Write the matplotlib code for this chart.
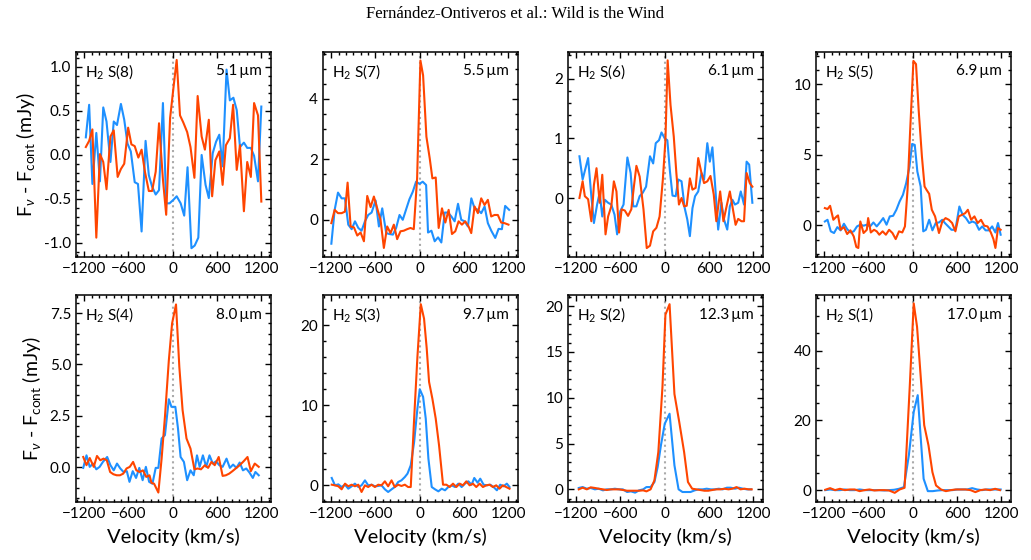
import numpy as np
import matplotlib
matplotlib.use("Agg")
import matplotlib.pyplot as plt
from matplotlib.ticker import AutoMinorLocator, MultipleLocator, FormatStrFormatter

plt.rcParams['font.family'] = ['Lato', 'DejaVu Sans']
plt.rcParams['mathtext.fontset'] = 'custom'
plt.rcParams['mathtext.rm'] = 'Lato'
plt.rcParams['mathtext.it'] = 'Lato:italic'
plt.rcParams['mathtext.fallback'] = 'stixsans'
plt.rcParams['axes.unicode_minus'] = True

RED = '#FF4500'
BLUE = '#1E90FF'

# ---------------- data (velocity km/s, flux mJy) ----------------
# H2 S(8)  5.1 um
v_s8_b = [-1177,-1132,-1088,-1035,-986,-941,-897,-844,-799,-755,-702,-657,-613,-568,-515,-471,-422,-368,-324,-280,-231,-186,-133,-89,-44,9,53,107,155,200,253,297,346,391,444,488,541,586,630,675,728,773,821,866,910,963,1008,1057,1101,1154,1199]
f_s8_b = [0.20,0.57,-0.33,0.25,-0.30,0.54,0.38,-0.08,0.38,0.34,0.58,0.40,0.13,0.04,-0.31,-0.33,-0.87,0.16,-0.23,-0.36,-0.45,-0.40,0.59,-0.55,-0.55,-0.51,-0.47,-0.55,-0.69,-0.14,-1.06,-1.03,-0.94,0.00,-0.34,-0.49,0.02,0.15,0.23,-0.13,0.97,0.62,0.65,0.51,0.09,0.14,0.08,0.08,-0.01,-0.30,0.55]
v_s8_r = [-1177,-1132,-1088,-1035,-986,-941,-897,-844,-799,-746,-702,-657,-604,-560,-515,-466,-422,-377,-324,-280,-231,-186,-133,-89,-36,9,53,98,142,195,240,293,337,391,435,488,533,577,630,675,719,773,817,866,910,963,1008,1057,1101,1154,1199]
f_s8_r = [0.09,0.16,0.29,-0.94,0.01,-0.08,-0.39,0.21,0.28,-0.25,-0.16,-0.10,0.31,0.12,0.10,-0.03,0.06,-0.19,-0.41,-0.41,-0.19,0.36,-0.28,-0.68,0.42,0.76,1.08,0.45,0.37,0.26,0.09,-0.26,0.67,0.21,0.06,0.40,-0.47,-0.06,0.04,-0.34,0.11,0.19,0.57,-0.17,0.11,-0.64,-0.08,-0.25,0.59,0.45,-0.53]

# H2 S(7)  5.5 um
v_s7_b = [-1197,-1152,-1107,-1058,-1013,-968,-922,-877,-832,-788,-742,-698,-652,-598,-553,-508,-454,-410,-364,-320,-274,-230,-184,-140,-94,-50,-4,40,86,112,158,202,248,292,338,382,428,472,518,562,608,652,698,742,788,832,878,922,968,1022,1067,1112,1156,1210]
f_s7_b = [-0.79,0.33,0.90,0.71,0.71,-0.16,-0.31,-0.05,-0.27,-0.36,-0.05,0.16,0.24,0.64,-0.22,0.38,-0.44,-0.47,-0.49,-0.27,0.16,0.0,0.35,0.68,0.93,1.26,1.19,1.26,1.15,-0.42,-0.36,-0.71,-0.58,-0.75,0.24,0.24,0.11,-0.05,0.53,0.0,-0.05,-0.22,0.71,0.38,0.33,0.22,0.44,-0.11,-0.36,-0.60,-0.30,-0.31,0.46,0.33]
v_s7_r = [-1197,-1152,-1107,-1058,-1013,-977,-936,-891,-846,-801,-756,-711,-666,-621,-576,-531,-486,-441,-396,-351,-306,-261,-216,-171,-126,-81,-36,9,45,90,135,171,216,256,301,346,391,436,481,526,571,616,661,697,742,787,832,877,922,967,1012,1057,1102,1147,1201]
f_s7_r = [-0.11,0.33,0.22,0.22,0.27,1.23,-0.22,-0.25,-0.52,-0.42,-0.71,0.79,0.42,0.77,0.38,0.0,-0.93,-0.22,-0.44,-0.16,-0.64,-0.38,-0.36,-0.31,-0.27,-0.31,1.37,5.27,4.78,2.75,2.03,1.37,1.40,-0.27,0.38,-0.09,0.33,-0.47,-0.38,-0.05,-0.16,-0.05,-0.22,-0.44,0.44,0.22,0.71,0.49,0.66,0.11,0.16,0.16,-0.09,-0.11,-0.16]

# H2 S(6)  6.1 um
v_s6_b = [-1155,-1112,-1073,-1038,-994,-959,-916,-881,-846,-811,-767,-724,-680,-645,-602,-558,-506,-462,-427,-384,-340,-297,-253,-200,-157,-122,-78,-44,0,35,70,105,148,183,227,270,305,340,375,410,453,497,532,576,610,645,680,723,767,802,846,881,916,950,994,1029,1073,1108,1143,1186]
f_s6_b = [0.70,0.31,0.50,0.67,0.03,-0.42,-0.11,0.09,-0.31,-0.03,-0.08,-0.11,-0.28,-0.61,-0.22,-0.11,0.68,0.42,-0.14,-0.14,0.03,0.09,0.19,0.70,0.58,0.92,0.97,1.10,1.00,0.97,0.45,0.04,0.03,0.31,0.28,-0.17,-0.36,-0.64,-0.17,0.03,0.11,0.42,0.31,0.92,0.61,0.85,0.25,-0.53,-0.08,-0.36,-0.53,-0.14,-0.03,-0.11,-0.08,0.11,-0.11,0.61,0.56,-0.08]
v_s6_r = [-1155,-1112,-1082,-1038,-994,-959,-924,-881,-846,-802,-767,-724,-689,-654,-619,-584,-541,-497,-453,-418,-384,-340,-288,-244,-200,-157,-113,-70,-26,9,39,78,122,157,192,227,262,297,340,375,418,453,497,532,576,619,663,698,750,794,837,881,916,959,994,1038,1073,1108,1151,1186]
f_s6_r = [0.0,0.28,0.03,-0.02,-0.39,0.22,0.50,-0.08,0.39,-0.61,-0.31,-0.14,0.28,0.11,-0.58,-0.19,-0.21,-0.30,-0.19,0.19,0.54,0.36,-0.19,-0.84,-0.80,-0.56,-0.50,-0.31,0.31,0.97,2.31,1.56,1.03,0.42,-0.11,0.0,-0.14,-0.13,0.33,0.14,0.17,0.67,0.42,0.25,0.28,0.37,0.06,-0.39,0.11,-0.39,-0.14,0.11,-0.14,-0.45,-0.35,-0.39,-0.39,0.42,0.25,0.19]

# H2 S(5)  6.9 um
v_s5_b = [-1190,-1154,-1110,-1066,-1021,-977,-932,-888,-844,-799,-755,-710,-666,-622,-577,-533,-488,-444,-400,-355,-311,-266,-222,-178,-133,-89,-44,-9,27,62,107,142,178,222,266,311,355,400,435,480,524,577,631,675,720,764,808,853,897,941,986,1030,1075,1119,1154,1190]
f_s5_b = [0.28,0.40,-0.42,-0.54,-0.12,-0.35,0.12,-0.26,-0.50,-0.42,-0.07,0.05,-0.02,0.05,-0.07,0.21,-0.07,0.21,0.52,0.05,0.64,0.68,1.11,1.70,2.17,3.00,4.17,5.78,5.71,3.82,2.76,-0.42,-0.31,0.40,-0.35,0.17,0.21,0.40,0.17,-0.07,-0.31,-0.31,1.34,0.75,0.52,0.17,0.28,0.17,-0.31,-0.07,-0.35,-0.35,-0.07,-0.50,0.17,-0.66]
v_s5_r = [-1190,-1154,-1119,-1075,-1030,-1012,-977,-932,-888,-844,-799,-764,-737,-710,-666,-622,-604,-568,-524,-488,-453,-408,-364,-320,-275,-231,-186,-142,-106,-71,-35,9,44,80,124,160,187,222,258,302,355,400,444,488,533,577,622,666,710,746,790,835,879,924,968,1012,1057,1092,1119,1154,1190]
f_s5_r = [1.23,1.16,1.39,0.40,0.64,0.71,-0.31,-0.12,-0.61,-0.35,-0.78,-1.53,-1.60,0.28,-0.54,-0.31,0.52,-0.50,-0.31,-0.42,-0.66,-0.42,-0.66,-0.31,-0.54,-0.97,-0.42,-0.50,-0.07,2.52,6.77,11.67,11.44,8.18,4.88,2.76,2.52,2.24,1.11,0.64,-0.54,0.28,0.52,0.40,0.17,-0.42,0.64,0.75,0.87,1.11,0.40,0.64,0.17,0.40,-0.02,-0.07,-0.50,-0.97,-1.60,-0.19,-0.31]

# H2 S(4)  8.0 um
v_s4_b = [-1212,-1168,-1124,-1079,-1035,-990,-946,-888,-844,-799,-755,-710,-666,-622,-586,-542,-497,-453,-408,-364,-320,-275,-231,-195,-151,-106,-53,-18,35,71,106,151,195,240,284,328,364,408,453,497,542,586,630,675,728,773,817,862,906,950,995,1039,1084,1119,1164]
f_s4_b = [-0.03,0.58,0.02,0.18,-0.10,0.02,0.26,0.50,0.10,-0.15,0.18,-0.06,-0.23,-0.19,-0.71,-0.19,-0.52,-0.03,-0.63,0.02,-0.71,-0.80,-0.03,-0.03,1.40,1.56,3.31,2.94,2.94,1.88,0.50,0.26,-0.63,-0.15,-0.39,0.58,0.02,0.58,0.02,0.58,0.18,0.29,0.10,0.02,0.42,-0.03,0.13,-0.03,0.23,-0.15,-0.06,-0.26,-0.52,-0.23,-0.39]
v_s4_r = [-1212,-1168,-1124,-1070,-1026,-981,-937,-893,-848,-804,-759,-715,-670,-626,-582,-537,-493,-448,-404,-359,-315,-288,-253,-195,-151,-106,-53,-9,44,89,133,186,240,293,337,382,435,479,524,568,622,675,719,764,808,852,906,959,1012,1057,1110,1164]
f_s4_r = [0.50,0.10,0.45,0.02,0.55,0.34,0.42,0.34,-0.23,-0.34,-0.39,-0.39,-0.31,-0.06,0.02,0.26,-0.15,-0.23,-0.15,-0.47,-0.39,-0.76,-0.80,-1.23,0.42,2.45,5.21,7.00,7.92,4.88,2.78,1.40,0.91,-0.10,-0.06,-0.10,0.10,-0.03,0.26,0.10,0.50,-0.42,-0.39,-0.31,-0.19,-0.06,0.10,0.29,0.50,-0.19,0.18,0.02]

# H2 S(3)  9.7 um
v_s3_b = [-1192,-1148,-1102,-1058,-1012,-968,-922,-878,-832,-788,-742,-698,-652,-608,-562,-518,-472,-428,-382,-338,-292,-248,-202,-166,-122,-76,-32,0,45,81,117,162,207,252,297,342,387,432,477,522,567,612,657,702,738,783,819,864,909,954,999,1044,1089,1134,1179,1215]
f_s3_b = [0.92,0.0,0.12,-0.21,0.08,-0.42,-0.12,0.21,-0.21,0.0,0.62,0.0,0.08,-0.12,-0.08,0.0,-0.50,-0.83,-0.50,-0.21,0.42,0.62,1.04,1.46,2.50,5.42,9.58,12.0,11.04,8.33,3.33,-0.21,-0.50,-0.75,-0.42,-0.62,-0.21,0.0,-0.21,0.21,-0.21,0.21,0.50,0.08,0.92,0.33,0.83,0.08,0.0,0.08,-0.21,-0.62,0.08,-0.12,0.21,-0.21]
v_s3_r = [-1192,-1148,-1102,-1058,-1012,-968,-922,-878,-832,-788,-742,-698,-652,-608,-562,-518,-472,-428,-382,-338,-292,-248,-202,-158,-122,-76,-32,14,58,94,126,171,216,261,315,360,405,450,495,540,585,630,675,720,765,810,855,900,945,990,1035,1080,1125,1170,1215]
f_s3_r = [0.08,0.0,-0.12,-0.50,0.21,-0.12,0.08,-0.12,0.08,-0.83,0.0,-0.21,0.08,-0.21,0.08,0.0,0.50,-0.12,0.62,-0.21,0.08,-0.08,0.08,-0.21,-0.21,8.33,16.0,22.6,20.8,17.1,12.9,10.8,8.33,5.0,0.08,0.08,-0.21,0.21,-0.21,0.21,0.0,0.50,0.0,0.21,-0.21,0.21,-0.21,0.0,0.08,-0.21,0.0,-0.42,0.0,-0.21,-0.42]

# H2 S(2)  12.3 um
v_s2_b = [-1164,-1112,-1055,-1003,-946,-894,-837,-785,-728,-676,-619,-567,-510,-458,-401,-349,-292,-248,-192,-140,-96,-52,0,65,131,187,240,296,349,405,458,514,567,623,676,732,785,841,894,950,1003,1059,1112,1168]
f_s2_b = [0.15,0.25,0.07,0.15,0.0,0.07,-0.11,0.0,0.0,0.07,0.0,0.0,-0.29,-0.22,-0.36,-0.11,0.0,0.25,0.25,0.80,2.44,4.80,7.16,8.25,2.62,0.0,-0.29,-0.29,-0.29,-0.11,0.0,0.0,0.07,0.0,0.0,0.07,0.0,0.18,0.18,0.07,0.18,0.07,0.0,0.0]
v_s2_r = [-1164,-1112,-1055,-1003,-946,-894,-837,-785,-728,-676,-619,-567,-510,-458,-401,-349,-292,-248,-192,-140,-87,-31,9,65,131,196,262,314,371,427,480,537,589,645,698,754,807,863,916,972,1025,1081,1134,1177]
f_s2_r = [0.0,0.18,0.0,0.22,0.15,0.07,0.0,-0.07,0.0,0.0,0.0,-0.07,-0.15,-0.15,-0.15,-0.15,-0.11,-0.22,0.0,0.98,4.07,11.2,19.05,20.2,10.4,7.35,4.07,0.80,0.07,0.0,-0.07,-0.15,-0.15,-0.07,0.0,0.0,0.07,0.0,0.07,0.25,0.0,0.07,0.0,0.0]

# H2 S(1)  17.0 um
v_s1_b = [-1185,-1119,-1052,-986,-919,-852,-786,-719,-653,-586,-519,-453,-386,-320,-253,-187,-120,-53,13,67,147,204,271,338,404,471,537,604,670,737,804,870,937,1003,1070,1137,1190]
f_s1_b = [0.0,0.19,0.0,0.0,0.19,0.0,0.0,0.19,0.0,0.0,0.0,0.0,-0.1,0.0,0.1,0.38,0.86,9.95,22.4,27.2,3.25,-0.29,-0.29,-0.1,0.0,0.0,0.0,0.19,0.19,0.19,0.57,0.19,0.0,0.19,0.19,0.19,0.19]
v_s1_r = [-1185,-1119,-1052,-986,-919,-852,-786,-719,-653,-586,-519,-453,-386,-320,-244,-178,-111,-40,13,58,111,155,213,266,315,382,448,515,582,648,715,782,848,915,981,1048,1115,1181]
f_s1_r = [0.1,0.57,0.0,0.38,0.0,0.19,0.19,-0.29,0.0,0.19,-0.1,0.0,0.0,-0.1,-0.77,0.19,0.67,30.0,53.5,46.8,31.5,18.6,12.8,5.17,1.34,0.19,-0.29,0.0,0.19,0.19,0.19,0.0,-0.57,0.0,0.19,0.0,0.38,0.0]

line_names = ['H$_2$ S(8)', 'H$_2$ S(7)', 'H$_2$ S(6)', 'H$_2$ S(5)',
              'H$_2$ S(4)', 'H$_2$ S(3)', 'H$_2$ S(2)', 'H$_2$ S(1)']
wavelengths = ['5.1\u2009µm', '5.5\u2009µm', '6.1\u2009µm', '6.9\u2009µm',
               '8.0\u2009µm', '9.7\u2009µm', '12.3\u2009µm', '17.0\u2009µm']
ylims = [(-1.16, 1.17), (-1.23, 5.55), (-0.99, 2.45), (-2.24, 12.3),
         (-1.69, 8.38), (-2.08, 23.75), (-1.38, 21.2), (-3.4, 55.9)]
yticks = [[-1.0, -0.5, 0.0, 0.5, 1.0], [0, 2, 4], [0, 1, 2], [0, 5, 10],
          [0.0, 2.5, 5.0, 7.5], [0, 10, 20], [0, 5, 10, 15, 20], [0, 20, 40]]
yfmt = ['%.1f', '%d', '%d', '%d', '%.1f', '%d', '%d', '%d']
xticks = [-1200, -600, 0, 600, 1200]

series = [
    (v_s8_r, f_s8_r, v_s8_b, f_s8_b),
    (v_s7_r, f_s7_r, v_s7_b, f_s7_b),
    (v_s6_r, f_s6_r, v_s6_b, f_s6_b),
    (v_s5_r, f_s5_r, v_s5_b, f_s5_b),
    (v_s4_r, f_s4_r, v_s4_b, f_s4_b),
    (v_s3_r, f_s3_r, v_s3_b, f_s3_b),
    (v_s2_r, f_s2_r, v_s2_b, f_s2_b),
    (v_s1_r, f_s1_r, v_s1_b, f_s1_b),
]

fig = plt.figure(figsize=(10.31, 5.60), dpi=100)
W, H = 1031.0, 560.0
col_left = [76, 323, 568, 816]
col_w = 195
row_top = [52, 295]
row_bot = [257, 502]

for i in range(8):
    r, c = divmod(i, 4)
    ax = fig.add_axes([col_left[c] / W, 1 - row_bot[r] / H, col_w / W,
                       (row_bot[r] - row_top[r]) / H])
    vr, fr, vb, fb = series[i]
    ax.axvline(0, color='#aaaaaa', ls=':', lw=1.5, zorder=1)
    ax.plot(vb, fb, color=BLUE, lw=1.5, zorder=2)
    ax.plot(vr, fr, color=RED, lw=1.5, zorder=3)
    ax.set_xlim(-1310, 1330)
    ax.set_ylim(*ylims[i])
    ax.set_xticks(xticks)
    ax.set_yticks(yticks[i])
    ax.yaxis.set_major_formatter(FormatStrFormatter(yfmt[i]))
    ax.xaxis.set_minor_locator(MultipleLocator(100))
    ax.yaxis.set_minor_locator(AutoMinorLocator())
    ax.tick_params(which='both', direction='in', top=True, right=True,
                   labelsize=11, width=1.0)
    ax.tick_params(which='major', length=4.5)
    ax.tick_params(which='minor', length=2.2)
    for sp in ax.spines.values():
        sp.set_linewidth(1.1)
    ax.text(0.045, 0.905, line_names[i], transform=ax.transAxes,
            ha='left', va='center', fontsize=11,
            family=['Lato', 'DejaVu Sans'])
    ax.text(0.955, 0.905, wavelengths[i], transform=ax.transAxes,
            ha='right', va='center', fontsize=11,
            family=['Lato', 'DejaVu Sans'])
    if r == 1:
        ax.set_xlabel('Velocity (km/s)', fontsize=14.5, labelpad=5)
    if c == 0:
        ax.set_ylabel(r'F$_\nu$ - F$_{\rm cont}$ (mJy)', fontsize=14, labelpad=5)

fig.text(0.5, 1 - 14 / H, 'Fernández-Ontiveros et al.: Wild is the Wind',
         ha='center', va='center', fontsize=12,
         family=['Liberation Serif', 'DejaVu Serif'])

fig.savefig('out.png', dpi=100)
